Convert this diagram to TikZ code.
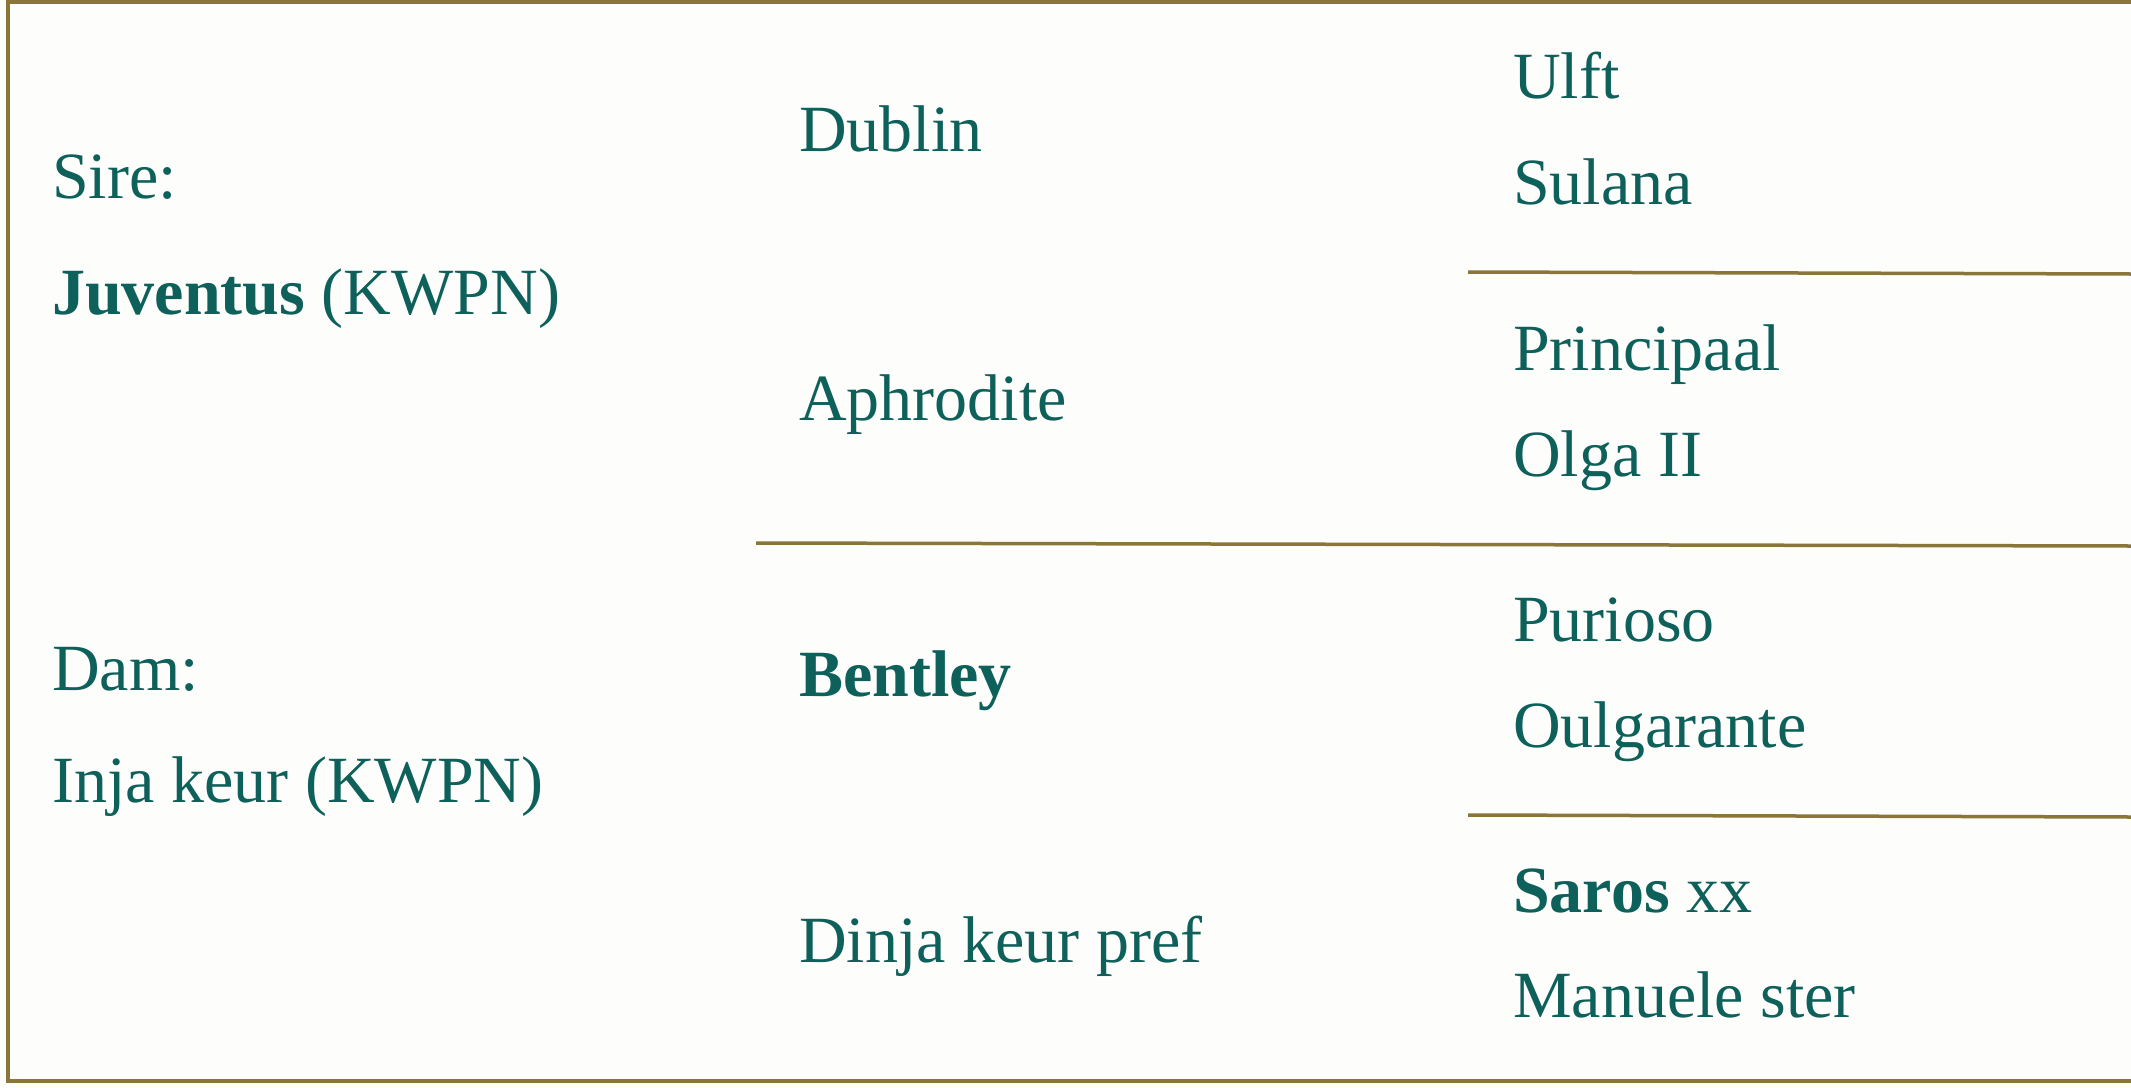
\documentclass[tikz,border=0pt]{standalone}
\usepackage{fontspec}
\setmainfont{Liberation Serif}
\definecolor{teal}{RGB}{14,96,90}
\definecolor{gold}{RGB}{139,118,58}
\definecolor{paper}{RGB}{253,253,251}
\begin{document}
\begin{tikzpicture}[x=1pt,y=-1pt,
  lbl/.style={anchor=base west,inner sep=0pt,text=teal,font=\fontsize{66}{79}\selectfont},
  rule/.style={draw=gold,line width=3.5pt}]
\fill[paper] (0,0) rectangle (2131,1087);
\useasboundingbox (0,0) rectangle (2131,1087);
% border (left, top, bottom)
\draw[rule] (2131,2) -- (8,2) -- (8,1081) -- (2131,1081);
% dividers
\draw[rule] (1468,272) -- (2131,274);
\draw[rule] (756,543) -- (2131,546);
\draw[rule] (1468,815) -- (2131,817);
% column 1
\node[lbl] (sire) at (52,198) {Sire:};
\node[lbl] (juv) at (52,314) {\textbf{Juventus} (KWPN)};
\node[lbl] (dam) at (52,690) {Dam:};
\node[lbl] (inja) at (52,802) {Inja keur (KWPN)};
% column 2
\node[lbl] (dublin) at (799,151) {Dublin};
\node[lbl] (aphro) at (799,420) {Aphrodite};
\node[lbl] (bentley) at (799,696) {\textbf{Bentley}};
\node[lbl] (dinja) at (799,962) {Dinja keur pref};
% column 3
\node[lbl] (ulft) at (1513,98) {Ulft};
\node[lbl] (sulana) at (1513,204) {Sulana};
\node[lbl] (princ) at (1513,370) {Principaal};
\node[lbl] (olga) at (1513,476) {Olga II};
\node[lbl] (purioso) at (1513,641) {Purioso};
\node[lbl] (oulga) at (1513,747) {Oulgarante};
\node[lbl] (saros) at (1513,912) {\textbf{Saros} xx};
\node[lbl] (manuele) at (1513,1017) {Manuele ster};
\end{tikzpicture}
\end{document}
